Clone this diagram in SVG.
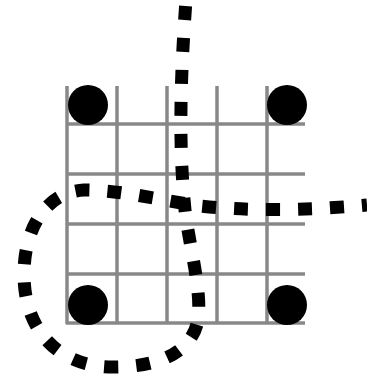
<svg xmlns="http://www.w3.org/2000/svg" width="367" height="376" viewBox="0 0 367 376">
<style>
.grid line{stroke:#888;stroke-width:3.5}
.dot{fill:#000}
.dash{fill:none;stroke:#000;stroke-width:13;stroke-dasharray:14 18;stroke-dashoffset:26}
</style>
<rect width="367" height="376" fill="#fff"/>
<g id="grid" class="grid">
<line x1="67" y1="86" x2="67" y2="324"/>
<line x1="117" y1="86" x2="117" y2="324"/>
<line x1="167" y1="86" x2="167" y2="324"/>
<line x1="217" y1="86" x2="217" y2="324"/>
<line x1="267" y1="86" x2="267" y2="324"/>
<line x1="66" y1="124" x2="305" y2="124"/>
<line x1="66" y1="174" x2="305" y2="174"/>
<line x1="66" y1="224" x2="305" y2="224"/>
<line x1="66" y1="274" x2="305" y2="274"/>
<line x1="66" y1="323" x2="305" y2="323"/>
</g>
<g id="stone-tl"><circle class="dot" cx="88" cy="105" r="20"/></g>
<g id="stone-tr"><circle class="dot" cx="287" cy="105" r="20"/></g>
<g id="stone-bl"><circle class="dot" cx="88" cy="305" r="20"/></g>
<g id="stone-br"><circle class="dot" cx="287" cy="305" r="20"/></g>
<g id="connectors">
<path class="dash" d="M186,0 C181,70 178,140 185,210 C190,250 202,290 198,320 C192,352 160,367 113,367 C58,367 24,330 24,274 C24,230 45,192 84,190 C120,190 160,200 200,206 C250,211 300,211 367,205"/>
</g>
</svg>
